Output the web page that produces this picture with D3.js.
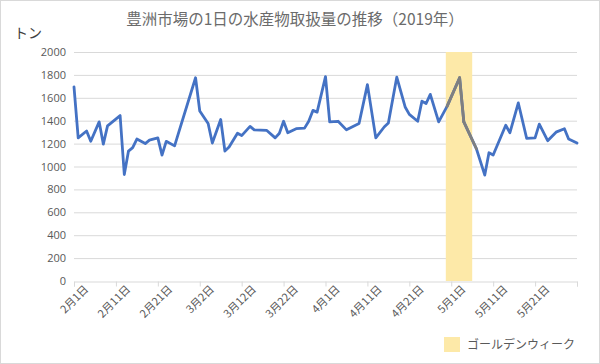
<!DOCTYPE html>
<meta charset="utf-8">
<style>
body { margin: 0; background: #fff; }
text { font-family: "Noto Sans CJK JP", "Noto Sans", sans-serif; }
</style>
<body>
<script src="https://d3js.org/d3.v7.min.js"></script>
<script>
// days counted from 2月1日 and the handled volume (tons)
var days = [0, 1, 3, 4, 6, 7, 8, 11, 12, 13, 14, 15, 17, 18, 20, 21, 22, 24, 25, 29,
            30, 32, 33, 35, 36, 37, 39, 40, 42, 43, 46, 48, 49, 50, 51, 53, 55, 56, 57, 58,
            60, 61, 63, 65, 68, 70, 72, 74, 75, 77, 79, 80, 82, 83, 84, 85, 87, 89, 92, 93,
            96, 98, 99, 100, 103, 104, 106, 108, 110, 111, 113, 115, 117, 118, 120];
var tons = [1695, 1250, 1310, 1220, 1390, 1195, 1355, 1445, 930, 1135, 1165, 1240, 1200, 1230, 1250, 1100, 1220, 1180, 1300, 1775,
            1485, 1375, 1205, 1410, 1135, 1170, 1290, 1270, 1350, 1320, 1315, 1250, 1290, 1395, 1295, 1330, 1335, 1395, 1490, 1475,
            1785, 1390, 1395, 1320, 1375, 1715, 1250, 1345, 1380, 1780, 1520, 1455, 1395, 1570, 1550, 1630, 1390, 1525, 1775, 1390,
            1155, 925, 1120, 1100, 1360, 1295, 1555, 1245, 1250, 1370, 1225, 1300, 1330, 1240, 1205];

var tickDays = [0, 10, 20, 30, 40, 50, 60, 70, 80, 90, 100, 110, 120];
var tickLabels = ["2月1日", "2月11日", "2月21日", "3月2日", "3月12日", "3月22日", "4月1日",
                  "4月11日", "4月21日", "5月1日", "5月11日", "5月21日", ""];
var yTicks = [0, 200, 400, 600, 800, 1000, 1200, 1400, 1600, 1800, 2000];

// golden week band (days from 2月1日)
var gwFrom = 88.7, gwTo = 95;

var W = 600, H = 364;
var margin = {top: 52, right: 23, bottom: 83, left: 74};
var width = W - margin.left - margin.right,
    height = H - margin.top - margin.bottom;

var x = d3.scaleLinear().domain([0, 120]).range([0, width]);
var y = d3.scaleLinear().domain([0, 2000]).range([height, 0]);

var svg = d3.select("body").append("svg")
    .attr("width", W)
    .attr("height", H);

// chart border
svg.append("rect")
    .attr("x", 0.5).attr("y", 0.5)
    .attr("width", W - 1).attr("height", H - 1)
    .attr("fill", "#fff")
    .attr("stroke", "#d9d9d9");

svg.append("text")
    .attr("x", 295).attr("y", 25)
    .attr("text-anchor", "middle")
    .attr("fill", "#6b6b6b")
    .style("font-size", "15.5px")
    .text("豊洲市場の1日の水産物取扱量の推移（2019年）");

svg.append("text")
    .attr("x", 14).attr("y", 38)
    .attr("fill", "#404040")
    .style("font-size", "14px")
    .text("トン");

var g = svg.append("g")
    .attr("transform", "translate(" + margin.left + "," + margin.top + ")");

// gridlines
g.selectAll(".grid")
    .data(yTicks.slice(1))
  .enter().append("line")
    .attr("x1", 0).attr("x2", width)
    .attr("y1", function(d) { return y(d) + 0.5; })
    .attr("y2", function(d) { return y(d) + 0.5; })
    .attr("stroke", "#d9d9d9");

// golden week band
g.append("rect")
    .attr("x", x(gwFrom))
    .attr("width", x(gwTo) - x(gwFrom))
    .attr("y", y(2000))
    .attr("height", y(0) - y(2000))
    .attr("fill", "#fde9a8");

// y axis labels
var yAxis = g.append("g")
    .call(d3.axisLeft(y).tickValues(yTicks).tickSize(0).tickPadding(8)
          .tickFormat(d3.format("d")));
yAxis.select(".domain").remove();
yAxis.selectAll("text")
    .attr("fill", "#595959")
    .style("font-size", "11px")
    .style("font-family", "'Open Sans', 'Noto Sans', sans-serif");

// x axis
var xAxis = g.append("g")
    .attr("transform", "translate(0," + (height + 0.5) + ")")
    .call(d3.axisBottom(x).tickValues(tickDays).tickSize(5)
          .tickFormat(function(d, i) { return tickLabels[i]; }));
xAxis.select(".domain").attr("stroke", "#d9d9d9");
xAxis.selectAll(".tick line").attr("stroke", "#d9d9d9");
xAxis.selectAll("text")
    .attr("fill", "#595959")
    .style("font-size", "11px")
    .style("text-anchor", "end")
    .attr("dx", "0.4em")
    .attr("dy", "0.75em")
    .attr("transform", "rotate(-45)");

// line, segments starting inside golden week are grey
var pts = days.map(function(d, i) { return [x(d), y(tons[i])]; });
var line = d3.line();

g.append("path")
    .attr("d", line(pts))
    .attr("fill", "none")
    .attr("stroke", "#4472c4")
    .attr("stroke-width", 2.8)
    .attr("stroke-linejoin", "round")
    .attr("stroke-linecap", "round");

for (var i = 0; i < days.length - 1; i++) {
  if (days[i] >= gwFrom && days[i] <= gwTo) {
    g.append("path")
        .attr("d", line([pts[i], pts[i + 1]]))
        .attr("fill", "none")
        .attr("stroke", "#7f7f7f")
        .attr("stroke-width", 2.8)
        .attr("stroke-linecap", "round");
  }
}

// legend
svg.append("rect")
    .attr("x", 444).attr("y", 337)
    .attr("width", 16).attr("height", 15)
    .attr("fill", "#fde9a8");
svg.append("text")
    .attr("x", 467).attr("y", 349)
    .attr("fill", "#595959")
    .style("font-size", "12px")
    .text("ゴールデンウィーク");
</script>
</body>
